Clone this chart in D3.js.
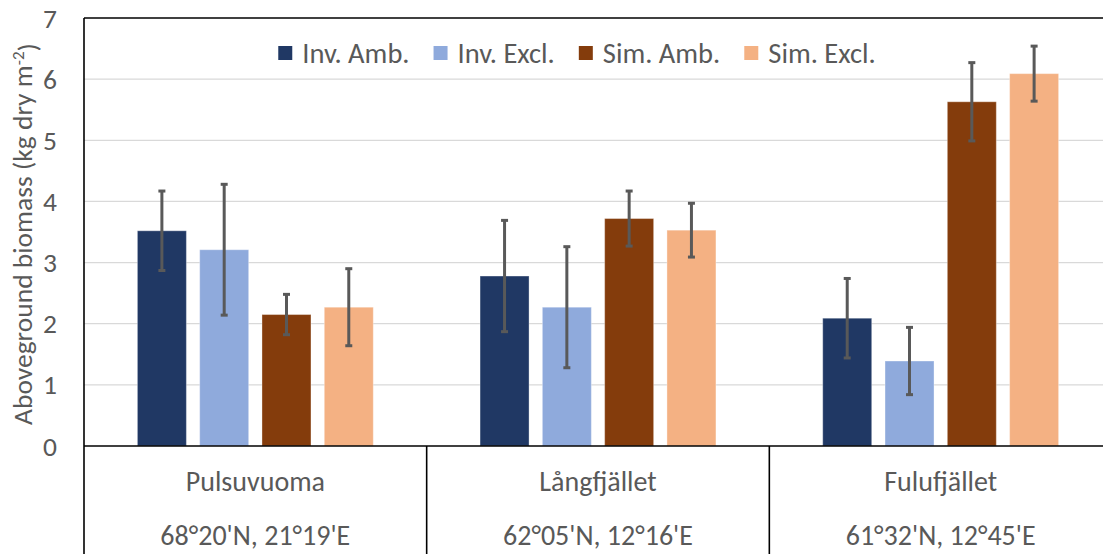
<!DOCTYPE html>
<html>
<head>
<meta charset="utf-8">
<script src="https://cdn.jsdelivr.net/npm/d3@7"></script>
<style>
  html, body { margin: 0; padding: 0; background: #ffffff; overflow: hidden; }
  svg { display: block; }
  text { font-family: Carlito, Calibri, Lato, sans-serif; fill: #595959; }
</style>
</head>
<body>
<svg id="chart" width="1103" height="554"></svg>
<script>
// Sites and their coordinates (two-level category axis)
const sites = ["Pulsuvuoma", "Långfjället", "Fulufjället"];
const coords = ["68°20'N, 21°19'E", "62°05'N, 12°16'E", "61°32'N, 12°45'E"];

// Treatments
const seriesNames = ["Inv. Amb.", "Inv. Excl.", "Sim. Amb.", "Sim. Excl."];
const seriesColors = ["#203864", "#8FAADC", "#843C0C", "#F4B183"];

// Mean aboveground biomass (kg dry m-2) per site, and error half-widths
const invAmb = [3.52, 2.78, 2.09];
const invAmbErr = [0.65, 0.91, 0.65];
const invExcl = [3.21, 2.27, 1.39];
const invExclErr = [1.07, 0.99, 0.55];
const simAmb = [2.15, 3.72, 5.63];
const simAmbErr = [0.33, 0.45, 0.64];
const simExcl = [2.27, 3.53, 6.09];
const simExclErr = [0.63, 0.44, 0.45];

const yTicks = [0, 1, 2, 3, 4, 5, 6, 7];
const yTitle = "Aboveground biomass (kg dry m";

const values = [invAmb, invExcl, simAmb, simExcl];
const errors = [invAmbErr, invExclErr, simAmbErr, simExclErr];

const svg = d3.select("#chart");
const plot = { left: 84, right: 1112, top: 18, bottom: 446 };

const x0 = d3.scaleBand().domain(sites).range([plot.left, plot.right]).paddingInner(0).paddingOuter(0);
const x1 = d3.scaleBand().domain(seriesNames).range([0, x0.bandwidth()]).paddingInner(0.2135).paddingOuter(0.857);
const y = d3.scaleLinear().domain([0, 7]).range([plot.bottom, plot.top]);

// Gridlines
svg.append("g")
  .selectAll("line")
  .data(yTicks.filter(t => t > 0 && t < 7))
  .join("line")
  .attr("x1", plot.left).attr("x2", plot.right)
  .attr("y1", d => y(d)).attr("y2", d => y(d))
  .attr("stroke", "#D9D9D9").attr("stroke-width", 1.2);

// Y tick labels
svg.append("g")
  .selectAll("text")
  .data(yTicks)
  .join("text")
  .attr("x", 57)
  .attr("y", d => y(d))
  .attr("dy", "0.35em")
  .attr("text-anchor", "end")
  .style("font-size", "27.5px")
  .text(d => d);

// Y axis title
const yt = svg.append("text")
  .attr("transform", `translate(32, ${(plot.top + plot.bottom) / 2 + 2}) rotate(-90)`)
  .attr("text-anchor", "middle")
  .style("font-size", "27.5px");
yt.append("tspan").text(yTitle);
yt.append("tspan").attr("dy", "-0.5em").style("font-size", "17px").text("-2");
yt.append("tspan").attr("dy", "0.5em").text(")");

// Bars
const groups = svg.append("g")
  .selectAll("g")
  .data(sites)
  .join("g")
  .attr("transform", d => `translate(${x0(d)},0)`);

groups.each(function(site, si) {
  const g = d3.select(this);
  seriesNames.forEach((name, k) => {
    const v = values[k][si];
    g.append("rect")
      .attr("x", x1(name))
      .attr("width", x1.bandwidth())
      .attr("y", y(v))
      .attr("height", y(0) - y(v))
      .attr("fill", seriesColors[k])
      .attr("stroke", "#ffffff").attr("stroke-opacity", 0.35).attr("stroke-width", 1);
  });
  // Error bars
  seriesNames.forEach((name, k) => {
    const v = values[k][si];
    const e = errors[k][si];
    const cx = x1(name) + x1.bandwidth() / 2;
    g.append("line")
      .attr("x1", cx).attr("x2", cx)
      .attr("y1", y(v + e)).attr("y2", y(v - e))
      .attr("stroke", "#595959").attr("stroke-width", 3);
    [v + e, v - e].forEach(val => {
      g.append("line")
        .attr("x1", cx - 3.5).attr("x2", cx + 3.5)
        .attr("y1", y(val)).attr("y2", y(val))
        .attr("stroke", "#595959").attr("stroke-width", 3);
    });
  });
});

// Plot frame (top and left) and category axis
const frame = svg.append("g").attr("stroke", "#000000").attr("stroke-width", 1.6);
frame.append("line").attr("x1", plot.left).attr("x2", plot.right).attr("y1", plot.top).attr("y2", plot.top);
frame.append("line").attr("x1", plot.left).attr("x2", plot.left).attr("y1", plot.top).attr("y2", 554);
frame.append("line").attr("x1", plot.left).attr("x2", plot.right).attr("y1", plot.bottom).attr("y2", plot.bottom);
frame.selectAll("line.sep")
  .data(sites.slice(1).concat(["__end"]))
  .join("line")
  .attr("class", "sep")
  .attr("x1", d => d === "__end" ? plot.right : x0(d))
  .attr("x2", d => d === "__end" ? plot.right : x0(d))
  .attr("y1", plot.bottom).attr("y2", 554);

// Category labels
const cat = svg.append("g")
  .selectAll("g")
  .data(sites)
  .join("g")
  .attr("transform", d => `translate(${x0(d) + x0.bandwidth() / 2},0)`);
cat.append("text")
  .attr("y", 491)
  .attr("text-anchor", "middle")
  .style("font-size", "28px")
  .text(d => d);
cat.append("text")
  .attr("y", 545)
  .attr("text-anchor", "middle")
  .style("font-size", "28px")
  .text((d, i) => coords[i]);

// Legend
const legend = svg.append("g");
let lx = 0;
seriesNames.forEach((name, k) => {
  const item = legend.append("g").attr("transform", `translate(${lx},0)`);
  item.append("rect").attr("x", 0).attr("y", -7).attr("width", 14).attr("height", 14).attr("fill", seriesColors[k]);
  const t = item.append("text").attr("x", 24).attr("dy", "0.35em").style("font-size", "28.5px").text(name);
  lx += 24 + t.node().getComputedTextLength() + 24;
});
const legendWidth = lx - 24;
legend.attr("transform", `translate(${577 - legendWidth / 2}, 53)`);
</script>
</body>
</html>
